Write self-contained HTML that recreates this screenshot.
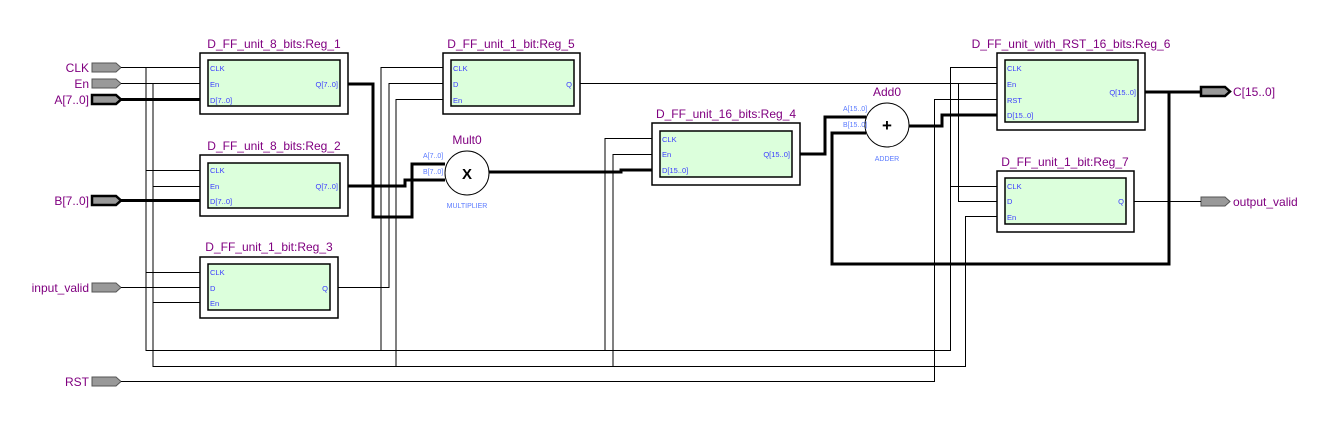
<!DOCTYPE html>
<html><head><meta charset="utf-8"><style>
html,body{margin:0;padding:0;background:#fff;width:1333px;height:436px;overflow:hidden}
svg{display:block}
.t{font-family:"Liberation Sans",sans-serif;font-size:12px;fill:#800080}
.p{font-family:"Liberation Sans",sans-serif;font-size:7.5px;fill:#3a3aff}
.s{font-family:"Liberation Sans",sans-serif;font-size:7px;fill:#5a7aff}
.w{stroke:#000;stroke-width:1;fill:none}
.b{stroke:#000;stroke-width:3;fill:none}
</style></head><body>
<svg width="1333" height="436" viewBox="0 0 1333 436" xmlns="http://www.w3.org/2000/svg">
<g fill="#999" stroke="#555" stroke-width="1">
<path d="M92,63 H116 L121,67.5 L116,72 H92 Z"/>
<path d="M92,79 H116 L121,83.5 L116,88 H92 Z"/>
<path d="M92,95 H116 L121,99.5 L116,104 H92 Z" stroke="#000" stroke-width="2.5"/>
<path d="M92,196 H116 L121,200.5 L116,205 H92 Z" stroke="#000" stroke-width="2.5"/>
<path d="M92,283 H116 L121,287.5 L116,292 H92 Z"/>
<path d="M92,377 H116 L121,381.5 L116,386 H92 Z"/>
<path d="M1201,87 H1225 L1230,91.5 L1225,96 H1201 Z" stroke="#000" stroke-width="2.5"/>
<path d="M1201,197 H1225 L1230,201.5 L1225,206 H1201 Z"/>
</g>
<g class="t" text-anchor="end">
<text x="89" y="72">CLK</text><text x="89" y="88">En</text><text x="89" y="104">A[7..0]</text>
<text x="89" y="205">B[7..0]</text><text x="89" y="292">input_valid</text><text x="89" y="386">RST</text>
</g>
<text class="t" x="1233" y="96">C[15..0]</text>
<text class="t" x="1233" y="206">output_valid</text>

<g class="w">
<path d="M121,67.5 H200 M146,67.5 V350.5 H381 M146,170.5 H200 M146,272.5 H200"/>
<path d="M121,83.5 H200 M153,83.5 V366.5 H396 M153,186.5 H200 M153,302.5 H200"/>
<path d="M121,287.5 H200 M121,381.5 H934.5 V99.5 H997"/>
<path d="M338,287.5 H389 V83.5 H443"/>
<path d="M381,350.5 V67.5 H443 M381,350.5 H605 M396,366.5 V99.5 H443 M396,366.5 H613"/>
<path d="M605,350.5 V138.5 H652 M613,366.5 V154.5 H652"/>
<path d="M605,350.5 H950.5 V67.5 H997 M950.5,186.5 H997"/>
<path d="M613,366.5 H965.5 V216.5 H997"/>
<path d="M580,83.5 H997 M958.5,83.5 V201.5 H997"/>
<path d="M1134,201.5 H1201"/>
</g>
<g class="b">
<path d="M121,99.5 H200 M121,200.5 H200"/>
<path d="M348,84 H373 V217 H412 V164 H445"/>
<path d="M348,186 H405 V180 H445"/>
<path d="M489,172 H621 V170 H652"/>
<path d="M800,154 H825 V117 H866"/>
<path d="M866,133 H832 V264 H1169 V92"/>
<path d="M909,126 H942 V115 H997"/>
<path d="M1145,92 H1201"/>
</g>

<g stroke="#000" stroke-width="1.5">
<rect x="200" y="53" width="148" height="61" fill="#fff"/><rect x="208" y="60" width="132" height="46" fill="#dcffdc"/>
<rect x="200" y="155" width="148" height="61" fill="#fff"/><rect x="208" y="163" width="132" height="45" fill="#dcffdc"/>
<rect x="200" y="257" width="138" height="61" fill="#fff"/><rect x="208" y="264" width="122" height="46" fill="#dcffdc"/>
<rect x="443" y="53" width="137" height="61" fill="#fff"/><rect x="451" y="60" width="123" height="46" fill="#dcffdc"/>
<rect x="652" y="123" width="148" height="62" fill="#fff"/><rect x="660" y="131" width="132" height="46" fill="#dcffdc"/>
<rect x="997" y="53" width="148" height="77" fill="#fff"/><rect x="1005" y="60" width="133" height="62" fill="#dcffdc"/>
<rect x="997" y="171" width="137" height="61" fill="#fff"/><rect x="1005" y="178" width="121" height="46" fill="#dcffdc"/>
</g>
<g fill="#fff" stroke="#000" stroke-width="1">
<circle cx="467" cy="173" r="22"/><circle cx="887" cy="125" r="22"/>
</g>
<text x="467" y="179" text-anchor="middle" font-family="Liberation Sans,sans-serif" font-size="15" font-weight="bold">X</text>
<text x="887" y="131" text-anchor="middle" font-family="Liberation Sans,sans-serif" font-size="17" font-weight="bold">+</text>

<g class="t" text-anchor="middle">
<text x="274" y="48">D_FF_unit_8_bits:Reg_1</text>
<text x="274" y="150">D_FF_unit_8_bits:Reg_2</text>
<text x="269" y="251">D_FF_unit_1_bit:Reg_3</text>
<text x="511" y="48">D_FF_unit_1_bit:Reg_5</text>
<text x="726" y="118">D_FF_unit_16_bits:Reg_4</text>
<text x="1071" y="48">D_FF_unit_with_RST_16_bits:Reg_6</text>
<text x="1065" y="166">D_FF_unit_1_bit:Reg_7</text>
<text x="467" y="144">Mult0</text>
<text x="887" y="96">Add0</text>
</g>
<g class="p">
<text x="210" y="71">CLK</text><text x="210" y="87">En</text><text x="210" y="103">D[7..0]</text><text x="338" y="87" text-anchor="end">Q[7..0]</text>
<text x="210" y="173">CLK</text><text x="210" y="189">En</text><text x="210" y="204">D[7..0]</text><text x="338" y="189" text-anchor="end">Q[7..0]</text>
<text x="210" y="275">CLK</text><text x="210" y="291">D</text><text x="210" y="306">En</text><text x="328" y="291" text-anchor="end">Q</text>
<text x="453" y="71">CLK</text><text x="453" y="87">D</text><text x="453" y="103">En</text><text x="572" y="87" text-anchor="end">Q</text>
<text x="662" y="142">CLK</text><text x="662" y="157">En</text><text x="662" y="173">D[15..0]</text><text x="790" y="157" text-anchor="end">Q[15..0]</text>
<text x="1007" y="71">CLK</text><text x="1007" y="87">En</text><text x="1007" y="103">RST</text><text x="1007" y="118">D[15..0]</text><text x="1136" y="95" text-anchor="end">Q[15..0]</text>
<text x="1007" y="189">CLK</text><text x="1007" y="204">D</text><text x="1007" y="220">En</text><text x="1124" y="204" text-anchor="end">Q</text>
</g>
<g class="s">
<text x="423" y="158">A[7..0]</text><text x="423" y="174">B[7..0]</text>
<text x="843" y="111">A[15..0]</text><text x="843" y="127">B[15..0]</text>
<text x="467" y="208" text-anchor="middle">MULTIPLIER</text>
<text x="887" y="161" text-anchor="middle">ADDER</text>
</g>
</svg>
</body></html>
